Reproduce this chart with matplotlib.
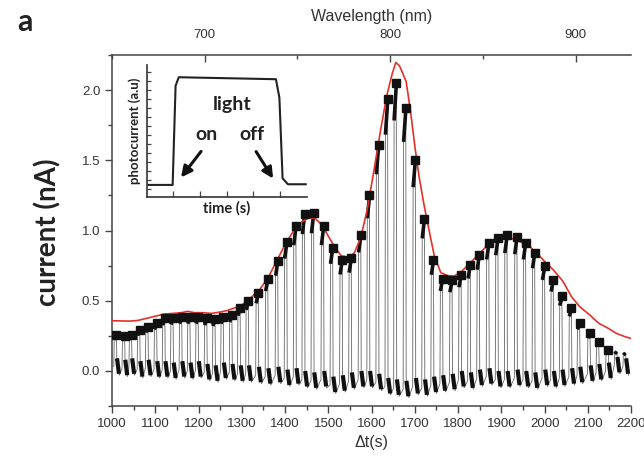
import numpy as np
import matplotlib.pyplot as plt
from matplotlib.ticker import MultipleLocator

plt.rcParams['font.family'] = ['Liberation Sans', 'DejaVu Sans']

# pulse maxima (black squares): time (s), current (nA)
peak_t = [1010, 1029, 1045, 1064, 1083, 1103, 1122, 1141, 1161, 1180,
          1199, 1219, 1238, 1257, 1277, 1296, 1315, 1338, 1360, 1383,
          1404, 1425, 1445, 1466, 1489, 1510, 1532, 1553, 1575, 1595,
          1616, 1637, 1657, 1679, 1701, 1722, 1743, 1764, 1786, 1807,
          1828, 1849, 1871, 1892, 1913, 1936, 1956, 1977, 2000, 2020,
          2040, 2062, 2081, 2105, 2125, 2147]
peak_v = [0.256, 0.249, 0.256, 0.29, 0.315, 0.34, 0.375, 0.38, 0.387, 0.387,
          0.387, 0.375, 0.368, 0.387, 0.40, 0.452, 0.50, 0.554, 0.654, 0.78,
          0.92, 1.03, 1.12, 1.127, 1.03, 0.877, 0.79, 0.805, 0.97, 1.25,
          1.61, 1.934, 2.05, 1.875, 1.504, 1.085, 0.788, 0.655, 0.645, 0.686,
          0.757, 0.829, 0.913, 0.948, 0.965, 0.956, 0.913, 0.841, 0.745, 0.65,
          0.535, 0.447, 0.34, 0.268, 0.208, 0.148]
# last small pulses without a square
tail_t = [2167, 2187]
tail_v = [0.14, 0.13]
# lowest current reached after each pulse (light off)
trough_v = [-0.03, -0.04, -0.03, -0.05, -0.04, -0.05,
            -0.05, -0.06, -0.05, -0.06, -0.05,
            -0.07, -0.08, -0.06, -0.07, -0.08,
            -0.08, -0.09, -0.10, -0.09, -0.11,
            -0.10, -0.12, -0.13, -0.12, -0.16,
            -0.15, -0.13, -0.12, -0.12, -0.14,
            -0.17, -0.18, -0.19, -0.17, -0.18,
            -0.16, -0.15, -0.14, -0.12, -0.13,
            -0.11, -0.10, -0.12, -0.12, -0.11,
            -0.12, -0.13, -0.11, -0.12, -0.11,
            -0.10, -0.09, -0.08, -0.07, -0.06,
            -0.02, -0.03]

# red envelope
red_t = [1000, 1040, 1060, 1080, 1100, 1120, 1140, 1160, 1175, 1190,
         1210, 1230, 1250, 1265, 1280, 1300, 1320, 1340, 1360, 1380,
         1400, 1420, 1440, 1455, 1470, 1485, 1500, 1515, 1530, 1545,
         1560, 1575, 1590, 1605, 1620, 1635, 1648, 1656, 1665, 1680,
         1690, 1700, 1710, 1722, 1735, 1745, 1760, 1775, 1790, 1805,
         1825, 1850, 1870, 1890, 1910, 1930, 1950, 1965, 1985, 2000,
         2020, 2042, 2062, 2081, 2104, 2125, 2147, 2166, 2186, 2200]
red_v = [0.358, 0.355, 0.36, 0.375, 0.39, 0.405, 0.41, 0.415, 0.425, 0.415,
         0.415, 0.41, 0.42, 0.43, 0.445, 0.47, 0.52, 0.575, 0.66, 0.78,
         0.90, 1.00, 1.065, 1.09, 1.085, 1.04, 0.96, 0.88, 0.82, 0.81,
         0.84, 0.95, 1.15, 1.42, 1.70, 1.96, 2.12, 2.197, 2.17, 2.06,
         1.85, 1.60, 1.38, 1.17, 0.97, 0.82, 0.70, 0.68, 0.675, 0.70,
         0.76, 0.84, 0.90, 0.935, 0.945, 0.94, 0.91, 0.888, 0.83, 0.78,
         0.72, 0.64, 0.53, 0.458, 0.40, 0.34, 0.304, 0.268, 0.244, 0.232]

# inset: single on/off response
inset_t = [0.05, 0.97, 1.08, 1.2, 4.85, 4.98, 5.1, 5.3, 5.97]
inset_v = [0.09, 0.09, 0.84, 0.905, 0.89, 0.75, 0.14, 0.095, 0.095]

# top axis: wavelength sweep
wl_start, wl_per_s = 650.0, 280.0 / 1200.0

fig = plt.figure(figsize=(6.44, 4.62), dpi=100)
ax = fig.add_axes([0.174, 0.121, 0.806, 0.760])

# build the pulse trace from the per-cycle values
cyc_t = peak_t + tail_t
cyc_v = peak_v + tail_v
xs, ys = [], []
for t, p, lo in zip(cyc_t, cyc_v, trough_v):
    xs += [t - 6, t - 5, t, t + 1, t + 7]
    ys += [lo + 0.06, 0.88 * p, p, lo + 0.12, lo]
ax.plot(xs, ys, color='#666666', lw=0.6, zorder=2)
for t, p, lo in zip(cyc_t, cyc_v, trough_v):
    ax.plot([t - 5, t], [0.87 * p, 0.99 * p], color='#111111', lw=2.6,
            solid_capstyle='butt', zorder=3)
    ax.plot([t + 1.5, t + 6], [lo + 0.12, lo + 0.01], color='#111111', lw=3.0,
            solid_capstyle='butt', zorder=3)

ax.plot(red_t, red_v, color='#e2312c', lw=1.2, zorder=4)
ax.plot(peak_t, peak_v, 's', color='#111111', ms=5.5, ls='none', zorder=5)

ax.set_xlim(1000, 2200)
ax.set_ylim(-0.25, 2.25)
ax.xaxis.set_major_locator(MultipleLocator(100))
ax.xaxis.set_minor_locator(MultipleLocator(50))
ax.yaxis.set_minor_locator(MultipleLocator(0.25))
ax.set_yticks([0.0, 0.5, 1.0, 1.5, 2.0])
ax.tick_params(axis='both', which='major', direction='out', length=5,
               width=1, labelsize=9.5, labelcolor='#333333', color='#444444')
ax.tick_params(axis='both', which='minor', direction='out', length=3,
               width=1, color='#444444')
ax.spines['right'].set_visible(False)
ax.spines['top'].set_visible(False)
for s in ['left', 'bottom']:
    ax.spines[s].set_color('#444444')
    ax.spines[s].set_linewidth(1.1)
ax.set_xlabel('\u0394t(s)', fontsize=11.5, color='#333333', labelpad=4)

sec = ax.secondary_xaxis('top', functions=(lambda t: wl_start + (t - 1000) * wl_per_s,
                                           lambda w: 1000 + (w - wl_start) / wl_per_s))
sec.set_xticks([700, 800, 900])
sec.xaxis.set_minor_locator(MultipleLocator(50))
sec.tick_params(which='major', direction='in', length=5, width=1,
                labelsize=9.5, labelcolor='#333333', color='#444444', pad=10)
sec.tick_params(which='minor', direction='in', length=3, width=1, color='#444444')
sec.spines['top'].set_color('#444444')
sec.spines['top'].set_linewidth(1.1)
sec.set_xlabel('Wavelength (nm)', fontsize=11.5, color='#333333', labelpad=6)

fig.text(0.075, 0.498, 'current (nA)', rotation=90, ha='center', va='center',
         fontsize=20, fontweight='bold', family=['Lato', 'DejaVu Sans'], color='#222222')
fig.text(0.038, 0.952, 'a', ha='center', va='center', fontsize=22,
         fontweight='bold', family=['Lato', 'DejaVu Sans'], color='#222222')

# inset
ins = fig.add_axes([0.228, 0.574, 0.248, 0.286])
ins.plot(inset_t, inset_v, color='#222222', lw=1.5)
ins.set_xlim(0, 6)
ins.set_ylim(0, 1)
ins.set_xticks([1, 2, 3, 4, 5])
ins.set_yticks(np.arange(0.06, 1.0, 0.068))
ins.tick_params(direction='in', length=3, width=0.9, color='#444444',
                labelbottom=False, labelleft=False)
ins.tick_params(axis='x', length=4)
ins.spines['right'].set_visible(False)
ins.spines['top'].set_visible(False)
for s in ['left', 'bottom']:
    ins.spines[s].set_color('#333333')
    ins.spines[s].set_linewidth(1.2)
ins.patch.set_alpha(0)
ins.set_ylabel('photocurrent (a.u)', fontsize=9.5, fontweight='bold',
               family=['Lato', 'DejaVu Sans'], color='#222222', labelpad=4)
ins.set_xlabel('time (s)', fontsize=10.5, fontweight='bold',
               family=['Lato', 'DejaVu Sans'], color='#222222', labelpad=3)
bold = dict(fontsize=14, fontweight='bold', family=['Lato', 'DejaVu Sans'],
            color='#222222', ha='center', va='center')
ins.text(3.22, 0.70, 'light', **bold)
ins.text(2.25, 0.47, 'on', **bold)
ins.text(3.94, 0.47, 'off', **bold)
arrow = dict(arrowstyle='-|>', lw=2.2, color='#111111', mutation_scale=16)
ins.annotate('', xy=(1.22, 0.13), xytext=(2.1, 0.36), arrowprops=arrow)
ins.annotate('', xy=(4.8, 0.12), xytext=(4.05, 0.36), arrowprops=arrow)

fig.savefig('out.png', dpi=100)
